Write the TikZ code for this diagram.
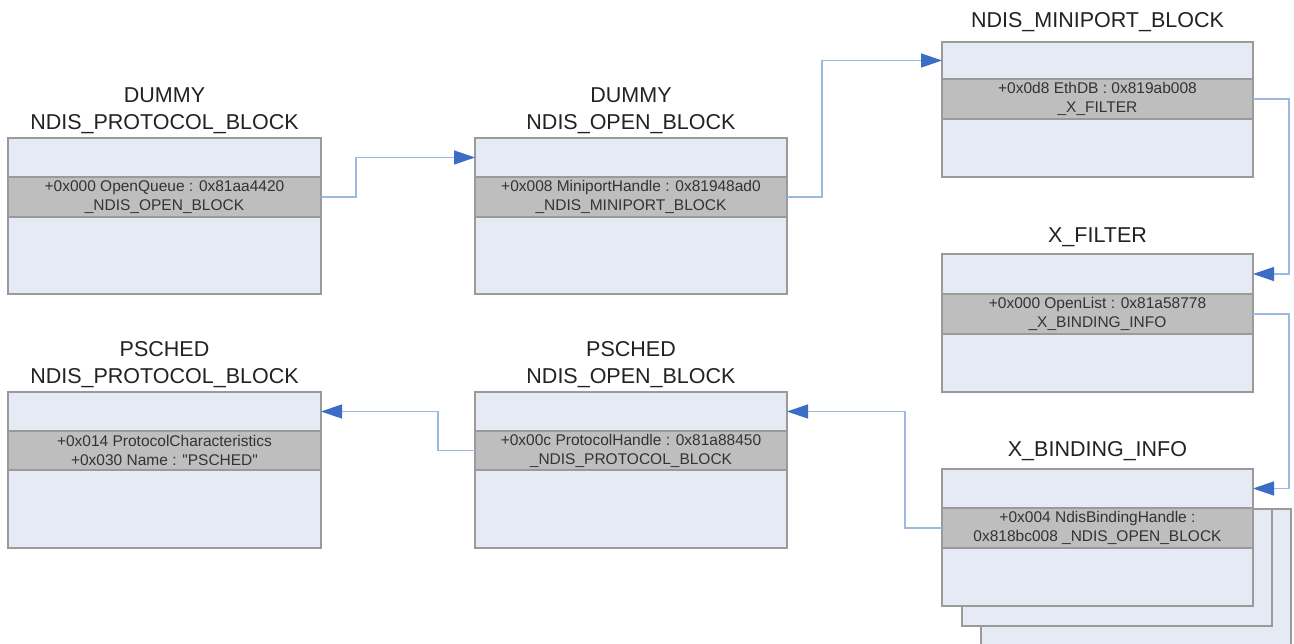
\documentclass[tikz,border=0pt]{standalone}
\usepackage{fontspec}
\setmainfont{Liberation Sans}[Ligatures=TeXOff]
\usetikzlibrary{arrows.meta}
\definecolor{boxfill}{HTML}{E6EAF5}
\definecolor{bandfill}{HTML}{BEBEBE}
\definecolor{boxline}{HTML}{9A9A9A}
\definecolor{connline}{HTML}{9DB8E2}
\definecolor{tipblue}{HTML}{3B6CC6}
\definecolor{titletext}{HTML}{222222}
\definecolor{bandtext}{HTML}{333333}
\begin{document}
\begin{tikzpicture}[x=1pt,y=-1pt,
  part/.style 2 args={draw=boxline, fill=boxfill, line width=1.2pt, inner sep=0pt, outer sep=0pt,
    anchor=north west, minimum width=#1, minimum height=#2},
  band/.style 2 args={part={#1}{#2}, fill=bandfill, text=bandtext, align=center,
    font=\fontsize{15.5}{19}\selectfont},
  title/.style={text=titletext, align=center, inner sep=0pt, font=\fontsize{21.5}{26.5}\selectfont},
  conn/.style={draw=connline, line width=1.3pt,
    -{Triangle[length=21pt,width=14pt,color=tipblue]}}
]
\useasboundingbox (0,0) rectangle (1294,644);
\clip (0,0) rectangle (1294,644);
\fill[white] (0,0) rectangle (1294,644);

% Box 1: DUMMY NDIS_PROTOCOL_BLOCK
\node[title] (t1) at (164.5,110.5) {DUMMY\\NDIS\_PROTOCOL\_BLOCK};
\node[part={313}{39}] (b1t) at (8,138) {};
\node[part={313}{77}] (b1b) at (8,217) {};
\node[band={313}{40}] (b1m) at (8,177) {+0x000 OpenQueue : 0x81aa4420\\\_NDIS\_OPEN\_BLOCK};

% Box 2: DUMMY NDIS_OPEN_BLOCK
\node[title] (t2) at (631,110.5) {DUMMY\\NDIS\_OPEN\_BLOCK};
\node[part={312}{39}] (b2t) at (475,138) {};
\node[part={312}{77}] (b2b) at (475,217) {};
\node[band={312}{40}] (b2m) at (475,177) {+0x008 MiniportHandle : 0x81948ad0\\\_NDIS\_MINIPORT\_BLOCK};

% Box 3: NDIS_MINIPORT_BLOCK
\node[title] (t3) at (1097.5,22) {NDIS\_MINIPORT\_BLOCK};
\node[part={311}{37}] (b3t) at (942,42) {};
\node[part={311}{58}] (b3b) at (942,119) {};
\node[band={311}{40}] (b3m) at (942,79) {+0x0d8 EthDB : 0x819ab008\\\_X\_FILTER};

% Box 4: X_FILTER
\node[title] (t4) at (1097.5,237) {X\_FILTER};
\node[part={311}{40}] (b4t) at (942,254) {};
\node[part={311}{58}] (b4b) at (942,334) {};
\node[band={311}{40}] (b4m) at (942,294) {+0x000 OpenList : 0x81a58778\\\_X\_BINDING\_INFO};

% Box 5: X_BINDING_INFO (stacked)
\node[part={310}{140}] (s3) at (981,509) {};
\node[part={310}{117}] (s2) at (962,509) {};
\node[title] (t5) at (1097.5,451) {X\_BINDING\_INFO};
\node[part={311}{39}] (b5t) at (942,469) {};
\node[part={311}{58}] (b5b) at (942,548) {};
\node[band={311}{40}] (b5m) at (942,508) {+0x004 NdisBindingHandle :\\0x818bc008 \_NDIS\_OPEN\_BLOCK};

% Box 6: PSCHED NDIS_OPEN_BLOCK
\node[title] (t6) at (631,364.5) {PSCHED\\NDIS\_OPEN\_BLOCK};
\node[part={312}{39}] (b6t) at (475,392) {};
\node[part={312}{78}] (b6b) at (475,470) {};
\node[band={312}{39}] (b6m) at (475,431) {+0x00c ProtocolHandle : 0x81a88450\\\_NDIS\_PROTOCOL\_BLOCK};

% Box 7: PSCHED NDIS_PROTOCOL_BLOCK
\node[title] (t7) at (164.5,364.5) {PSCHED\\NDIS\_PROTOCOL\_BLOCK};
\node[part={313}{39}] (b7t) at (8,392) {};
\node[part={313}{78}] (b7b) at (8,470) {};
\node[band={313}{39}] (b7m) at (8,431) {+0x014 ProtocolCharacteristics\\+0x030 Name : "PSCHED"};

% Connectors
\draw[conn] (b1m.east) -- ++(35,0) |- (b2t.west);
\draw[conn] (b2m.east) -- ++(35,0) |- (b3t.west);
\draw[conn] (b3m.east) -- ++(36,0) |- (b4t.east);
\draw[conn] (b4m.east) -- ++(36,0) |- (b5t.east);
\draw[conn] (b5m.west) -- ++(-37,0) |- (b6t.east);
\draw[conn] (b6m.west) -- ++(-37,0) |- (b7t.east);
\end{tikzpicture}
\end{document}
